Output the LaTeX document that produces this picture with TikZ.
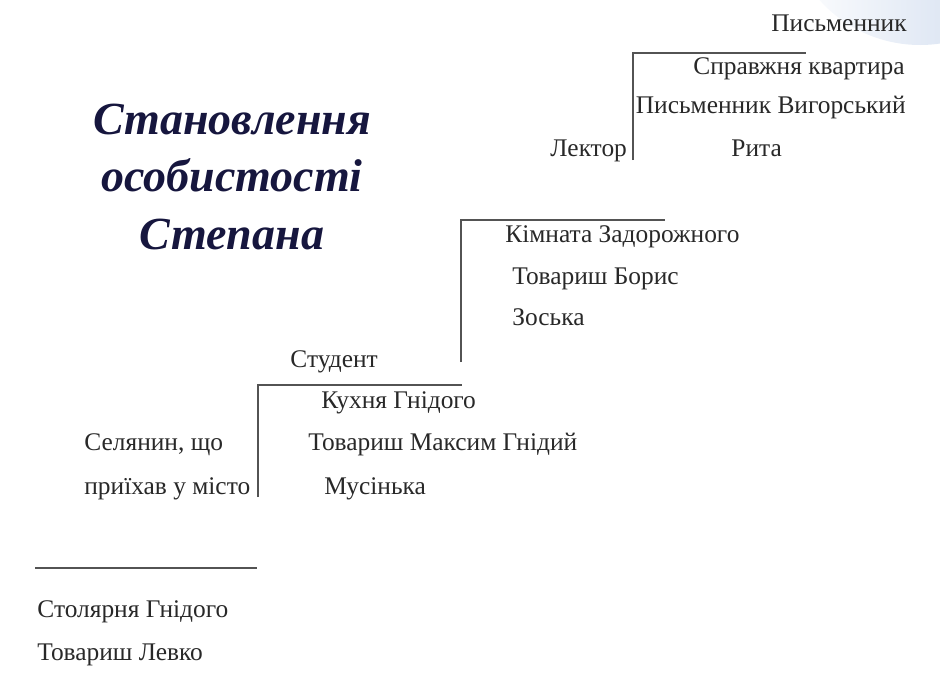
\documentclass[tikz,border=0pt]{standalone}
\usepackage{fontspec}
\setmainfont{Liberation Serif}
\usepackage{tikz}
\definecolor{titlecol}{RGB}{22,22,62}
\definecolor{txtcol}{RGB}{40,40,40}
\definecolor{decocol}{RGB}{200,214,236}
\newcommand\stepsize{12.7}

\begin{document}
\begin{tikzpicture}[
x=0.5pt,y=-0.5pt,
lbl/.style={anchor=mid west,inner sep=0pt,color=txtcol,font=\fontsize{\stepsize}{15}\selectfont},
lblr/.style={lbl,anchor=mid east},
titletext/.style={align=center,inner sep=0pt,color=titlecol,font=\fontsize{23}{28.5}\selectfont\bfseries\itshape},
stair/.style={color=txtcol!80,line width=0.8pt}
]
\useasboundingbox (0,0) rectangle (940,675);
% faint decoration of the slide
\shade[left color=white,right color=decocol] (920,-90) circle (135);

\node[titletext] (title) at (232,177) {Становлення\\особистості\\Степана};

% top step
\node[lblr] (pysm) at (907,27) {Письменник};
\coordinate (s1a) at (633,160);
\coordinate (s1b) at (633,53);
\coordinate (s1c) at (806,53);
\draw[stair] (s1a) -- (s1b) -- (s1c);
\node[lblr] (kvart) at (905,70) {Справжня квартира};
\node[lblr] (vyhor) at (906,109) {Письменник Вигорський};
\node[lbl] (lektor) at (550,152) {Лектор};
\node[lbl] (ryta) at (731,152) {Рита};

% second step
\coordinate (s2a) at (461,362);
\coordinate (s2b) at (461,220);
\coordinate (s2c) at (665,220);
\draw[stair] (s2a) -- (s2b) -- (s2c);
\node[lbl] (kimn) at (505,238) {Кімната Задорожного};
\node[lbl] (borys) at (512,280) {Товариш Борис};
\node[lbl] (zoska) at (512,321) {Зоська};
\node[lbl] (student) at (290,363) {Студент};

% third step
\coordinate (s3a) at (258,497);
\coordinate (s3b) at (258,385);
\coordinate (s3c) at (462,385);
\draw[stair] (s3a) -- (s3b) -- (s3c);
\node[lbl] (kukhnia) at (321,404) {Кухня Гнідого};
\node[lbl] (selianyn) at (84,446) {Селянин, що};
\node[lbl] (maksym) at (308,446) {Товариш Максим Гнідий};
\node[lbl] (pryikhav) at (84,490) {приїхав у місто};
\node[lbl] (musinka) at (324,490) {Мусінька};

% bottom step
\coordinate (s4a) at (35,568);
\coordinate (s4b) at (257,568);
\draw[stair] (s4a) -- (s4b);
\node[lbl] (stoliarnia) at (37,613) {Столярня Гнідого};
\node[lbl] (levko) at (37,656) {Товариш Левко};

\end{tikzpicture}
\end{document}
